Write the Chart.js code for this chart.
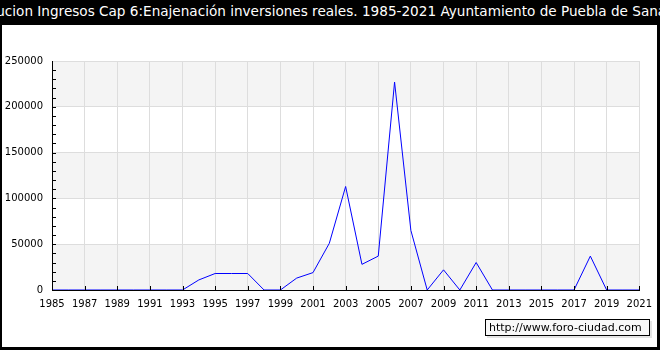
<!DOCTYPE html>
<html>
<head>
<meta charset="utf-8">
<script src="https://cdn.jsdelivr.net/npm/chart.js@4"></script>
<style>
  html, body { margin: 0; padding: 0; }
  body { background: #000; width: 660px; height: 350px; overflow: hidden; position: relative; font-family: "DejaVu Sans", sans-serif; }
  #title { position: absolute; top: 0; left: -200px; width: 1060px; height: 25px; line-height: 23px; color: #fff; font-size: 13.6px; text-align: center; white-space: nowrap; }
  #panel { position: absolute; left: 2px; top: 25px; width: 655px; height: 322px; background: #fff; }
  #chart { position: absolute; left: 0; top: 0; }
  #credit { position: absolute; left: 485px; top: 319px; width: 160px; height: 15px; border: 1px solid #000; background: #f8f8f8; font-size: 11px; line-height: 15px; padding-left: 3px; box-sizing: content-box; box-shadow: 2px 2px 0 #e4e4e4; color: #000; }
</style>
</head>
<body>
<div id="title">Evolucion Ingresos Cap 6:Enajenación inversiones reales. 1985-2021 Ayuntamiento de Puebla de Sanabria</div>
<div id="panel"></div>
<canvas id="chart" width="660" height="350"></canvas>
<div id="credit">http://www.foro-ciudad.com</div>
<script>
// Ingresos Cap 6 por año
const years = [1985, 1986, 1987, 1988, 1989, 1990, 1991, 1992, 1993, 1994,
  1995, 1996, 1997, 1998, 1999, 2000, 2001, 2002, 2003, 2004,
  2005, 2006, 2007, 2008, 2009, 2010, 2011, 2012, 2013, 2014,
  2015, 2016, 2017, 2018, 2019, 2020, 2021];
const values = [0, 0, 0, 0, 0, 0, 0, 0, 0, 11000,
  18000, 18000, 18000, 0, 0, 13000, 19000, 51000, 113000, 28000,
  37000, 227000, 65000, 0, 22000, 0, 30000, 0, 0, 0,
  0, 0, 0, 37000, 0, 0, 0];
const yTicks = [0, 50000, 100000, 150000, 200000, 250000];
const xTicks = [1985, 1987, 1989, 1991, 1993, 1995, 1997, 1999, 2001, 2003,
  2005, 2007, 2009, 2011, 2013, 2015, 2017, 2019, 2021];

const FONT = { family: 'DejaVu Sans', size: 10 };

// alternating grey bands behind the grid
const bands = {
  id: 'bands',
  beforeDraw(chart) {
    const { ctx, chartArea: a, scales: { y } } = chart;
    ctx.save();
    ctx.fillStyle = '#f4f4f4';
    for (let i = 0; i < yTicks.length - 1; i += 2) {
      const top = y.getPixelForValue(yTicks[i + 1]);
      const bot = y.getPixelForValue(yTicks[i]);
      ctx.fillRect(a.left, top, a.right - a.left, bot - top);
    }
    ctx.restore();
  }
};

// axes drawn over the line, with inward ticks
const axes = {
  id: 'axes',
  afterDatasetsDraw(chart) {
    const { ctx, chartArea: a, scales: { x, y } } = chart;
    ctx.save();
    ctx.strokeStyle = '#000';
    ctx.lineWidth = 1;
    ctx.beginPath();
    ctx.moveTo(a.left + 0.5, a.top);
    ctx.lineTo(a.left + 0.5, a.bottom + 0.5);
    ctx.lineTo(a.right, a.bottom + 0.5);
    for (const t of xTicks) {
      const px = Math.round(x.getPixelForValue(t)) + 0.5;
      ctx.moveTo(px, a.bottom);
      ctx.lineTo(px, a.bottom - 4);
    }
    for (let v = 10000; v < 250000; v += 10000) {
      const py = Math.round(y.getPixelForValue(v)) + 0.5;
      ctx.moveTo(a.left, py);
      ctx.lineTo(a.left + 4, py);
    }
    ctx.stroke();
    ctx.restore();
  }
};

const chart = new Chart(document.getElementById('chart'), {
  type: 'line',
  data: {
    datasets: [{
      data: years.map((yr, i) => ({ x: yr, y: values[i] })),
      borderColor: '#0000ff',
      borderWidth: 1,
      pointRadius: 0,
      tension: 0,
      fill: false
    }]
  },
  options: {
    responsive: false,
    animation: false,
    devicePixelRatio: 1,
    layout: { padding: { top: 61, right: 20, bottom: 0, left: 0 } },
    plugins: { legend: { display: false }, tooltip: { enabled: false } },
    scales: {
      x: {
        type: 'linear',
        min: 1985,
        max: 2021,
        afterFit(s) { s.height = 60; },
        afterBuildTicks(s) { s.ticks = xTicks.map(v => ({ value: v })); },
        grid: { color: '#dddddd', drawTicks: false },
        border: { color: '#000' },
        ticks: { font: FONT, color: '#000', padding: 8, maxRotation: 0, autoSkip: false, callback: v => String(v) }
      },
      y: {
        min: 0,
        max: 250000,
        afterFit(s) { s.width = 52; },
        afterBuildTicks(s) { s.ticks = yTicks.map(v => ({ value: v })); },
        grid: { color: '#dddddd', drawTicks: false },
        border: { color: '#000' },
        ticks: { font: FONT, color: '#000', padding: 9, callback: v => String(v) }
      }
    }
  },
  plugins: [bands, axes]
});
</script>
</body>
</html>
